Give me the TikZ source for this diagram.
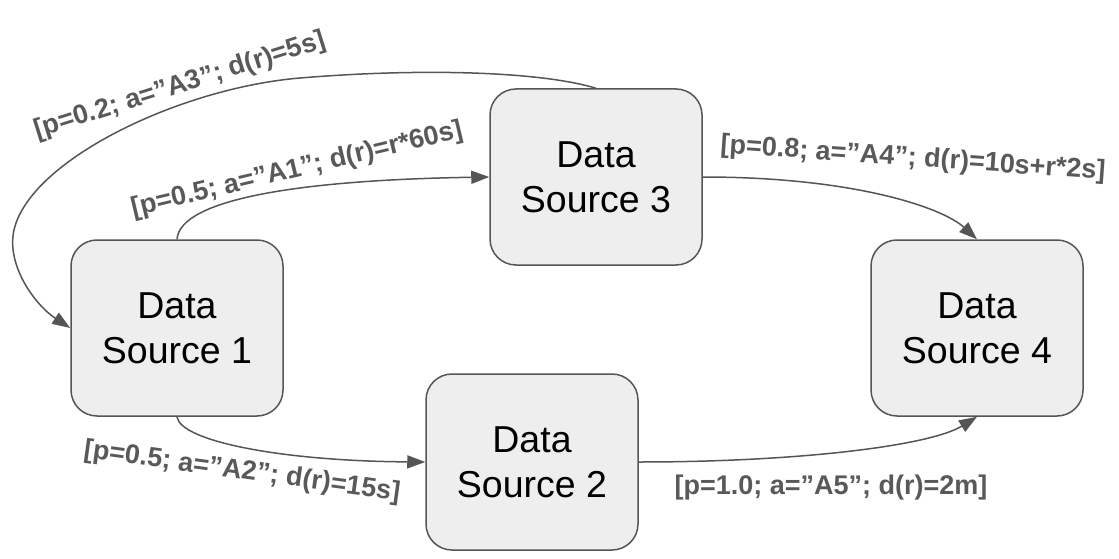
\documentclass[tikz,border=0pt]{standalone}
\usepackage{fontspec}
\setmainfont{Liberation Sans}
\usetikzlibrary{arrows.meta}
\definecolor{boxfill}{HTML}{EEEEEE}
\definecolor{linegrey}{HTML}{555555}
\definecolor{labelgrey}{HTML}{595959}
\begin{document}
\begin{tikzpicture}[x=1pt,y=-1pt,
  srcbox/.style={draw=linegrey, line width=1.5pt, fill=boxfill, rounded corners=26pt,
    minimum width=212pt, minimum height=176pt, align=center, inner sep=0pt,
    font=\fontsize{37.5}{45}\selectfont},
  conn/.style={draw=linegrey, line width=1.5pt, -{Triangle[length=18pt,width=13pt]}},
  lbl/.style={text=labelgrey, font=\fontsize{27}{30}\selectfont\bfseries, inner sep=0pt}
]
\useasboundingbox (0,0) rectangle (1119,559);
\node[srcbox] (n1) at (177,328) {Data\\Source 1};
\node[srcbox] (n3) at (596,177) {Data\\Source 3};
\node[srcbox] (n4) at (977,328) {Data\\Source 4};
\node[srcbox] (n2) at (532,462) {Data\\Source 2};

\draw[conn] (n1.north) .. controls +(3,-40) and +(-190,3) .. (n3.west);
\draw[conn] (n3.north) .. controls +(-56,-17) and (420,68) .. (300,78)
  .. controls (180,88) and (30,160) .. (14,230)
  .. controls (6,265) and (35,305) .. (n1.west);
\draw[conn] (n3.east) .. controls +(150,0) and +(-35,-32) .. (n4.north);
\draw[conn] (n1.south) .. controls +(3,24) and +(-146,-1) .. (n2.west);
\draw[conn] (n2.east) .. controls +(160,0) and +(-47,29) .. (n4.south);

\node[lbl, rotate=17.5] (l3) at (180,86) {[p=0.2; a=”A3”; d(r)=5s]};
\node[lbl, rotate=13.4] (l1) at (297,170) {[p=0.5; a=”A1”; d(r)=r*60s]};
\node[lbl, rotate=-7.8] (l2) at (242,472) {[p=0.5; a=”A2”; d(r)=15s]};
\node[lbl, rotate=-4] (l4) at (913,159) {[p=0.8; a=”A4”; d(r)=10s+r*2s]};
\node[lbl] (l5) at (831,488) {[p=1.0; a=”A5”; d(r)=2m]};
\end{tikzpicture}
\end{document}
